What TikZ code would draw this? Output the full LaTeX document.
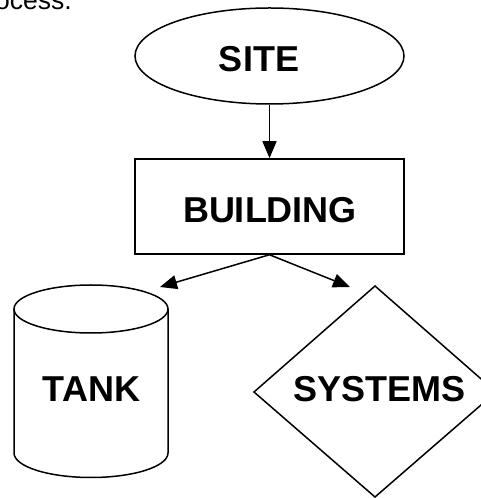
\documentclass[tikz,border=0pt]{standalone}
\usepackage{fontspec}
\setmainfont{Liberation Sans}
\usetikzlibrary{arrows.meta,shapes.geometric}
\begin{document}
\begin{tikzpicture}[x=1pt,y=1pt,
  shapeline/.style={draw=black,line width=1.5pt},
  conn/.style={line width=1.5pt,-{Triangle[length=17pt,width=14pt]}},
  lbl/.style={font=\fontsize{36}{40}\selectfont\bfseries,inner sep=0pt,anchor=base},
  bodytext/.style={font=\fontsize{26.5}{30}\selectfont,inner sep=0pt,anchor=base west}]
\useasboundingbox (0,0) rectangle (481,498);
\fill[white] (0,0) rectangle (481,498);
\clip (0,0) rectangle (481,498);
% top text fragment
\node[bodytext] (prev) at (-5,488.7) {ocess.};
% SITE ellipse
\node[shapeline,ellipse,minimum width=269pt,minimum height=96pt,inner sep=0pt] (site) at (269.5,442) {};
\node[lbl] (sitetext) at (259,426) {SITE};
% BUILDING box
\node[shapeline,rectangle,minimum width=269pt,minimum height=95pt,inner sep=0pt] (building) at (269.5,291.5) {};
\node[lbl] (buildingtext) at (270,275) {BUILDING};
% TANK cylinder
\draw[shapeline] (14,189) -- (14,45) arc[start angle=180,end angle=360,x radius=77pt,y radius=24.5pt] -- (168,189);
\draw[shapeline] (91,189) ellipse[x radius=77pt,y radius=24pt];
\node[lbl] (tanktext) at (91.5,96) {TANK};
% SYSTEMS diamond
\coordinate (dtop) at (375,212);
\coordinate (dleft) at (254,106);
\coordinate (dbottom) at (375,1);
\coordinate (dright) at (496,106);
\draw[shapeline,line join=miter] (dtop) -- (dleft) -- (dbottom) -- (dright) -- cycle;
\node[lbl] (systemstext) at (379.5,96) {SYSTEMS};
% connectors
\coordinate (tankin) at (160,211);
\coordinate (sysin) at (350,211);
\draw[conn] (site.south) -- (building.north);
\draw[conn] (building.south) -- (tankin);
\draw[conn] (building.south) -- (sysin);
\end{tikzpicture}
\end{document}
